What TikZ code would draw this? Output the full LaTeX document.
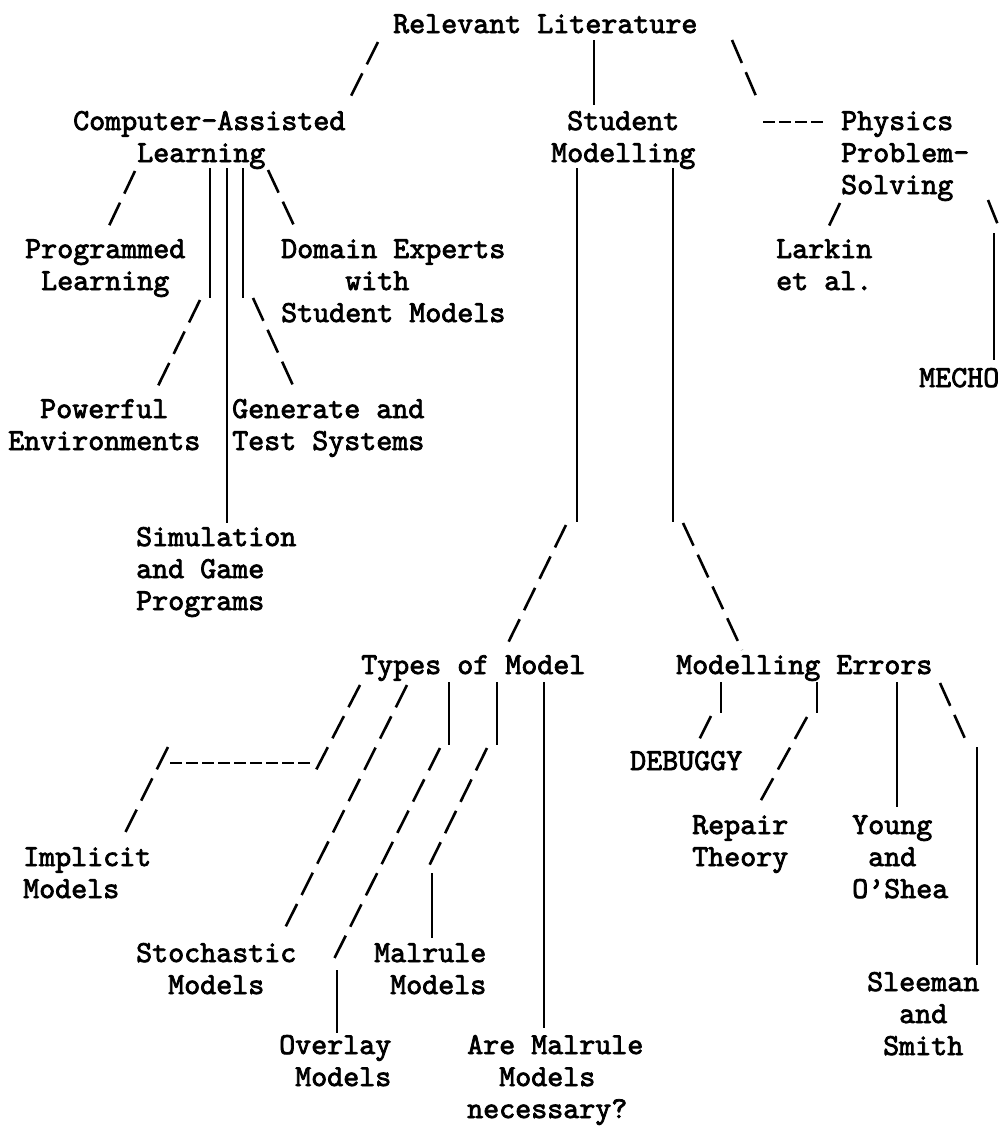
\documentclass[tikz,border=0pt]{standalone}
\usepackage{fontspec}
\newfontfamily\typewriter{lmmono10-regular.otf}[FakeBold=2.5]
\newcommand\ind[1]{\hspace*{#1\fontcharwd\font`x}}
\tikzset{lbl/.style={anchor=base west,align=left,inner sep=0pt,
           font=\typewriter\fontsize{30.5}{32}\selectfont},
         bar/.style={line width=2.6pt},
         slash/.style={line width=2.6pt,dash pattern=on 25pt off 10pt},
         hyph/.style={line width=2.8pt,dash pattern=on 12pt off 4pt}}

\begin{document}
\begin{tikzpicture}[x=1pt,y=-1pt]
  \useasboundingbox (0,0) rectangle (1007,1130);
  % topics (placed at the baseline of their last line)
  \node[lbl] (rl)    at (393,33)   {Relevant Literature};
  \node[lbl] (cal)   at (73,162)   {Computer-Assisted\\\ind{4}Learning};
  \node[lbl] (sm)    at (551,162)  {\ind{1}Student\\Modelling};
  \node[lbl] (pps)   at (841,194)  {Physics\\Problem-\\Solving};
  \node[lbl] (pl)    at (25,290)   {Programmed\\\ind{1}Learning};
  \node[lbl] (de)    at (281,322)  {Domain Experts\\\ind{4}with\\Student Models};
  \node[lbl] (lk)    at (776,290)  {Larkin\\et al.};
  \node[lbl] (mecho) at (919,387)  {MECHO};
  \node[lbl] (pe)    at (8,450)    {\ind{2}Powerful\\Environments};
  \node[lbl] (gt)    at (232,450)  {Generate and\\Test Systems};
  \node[lbl] (sg)    at (136,610)  {Simulation\\and Game\\Programs};
  \node[lbl] (tm)    at (361,674)  {Types of Model};
  \node[lbl] (me)    at (676,674)  {Modelling Errors};
  \node[lbl] (dbg)   at (630,770)  {DEBUGGY};
  \node[lbl] (rt)    at (692,866)  {Repair\\Theory};
  \node[lbl] (yo)    at (852,898)  {Young\\\ind{1}and\\O’Shea};
  \node[lbl] (im)    at (23,898)   {Implicit\\Models};
  \node[lbl] (st)    at (136,994)  {Stochastic\\\ind{2}Models};
  \node[lbl] (mr)    at (374,994)  {Malrule\\\ind{1}Models};
  \node[lbl] (ss)    at (867,1055) {Sleeman\\\ind{2}and\\\ind{1}Smith};
  \node[lbl] (ov)    at (279,1086) {Overlay\\\ind{1}Models};
  \node[lbl] (am)    at (467,1118) {Are Malrule\\\ind{2}Models\\necessary?};

  % branch points
  \coordinate (rl-a) at (378,42);  \coordinate (rl-b) at (350,98);
  \coordinate (rl-c) at (594,40);  \coordinate (rl-d) at (594,105);
  \coordinate (rl-e) at (732,40);  \coordinate (rl-f) at (759,103);
  \coordinate (pps-a) at (763,122); \coordinate (pps-b) at (823,122);
  \coordinate (cal-a) at (135,171); \coordinate (cal-b) at (108,228);
  \coordinate (cal-c) at (210,168); \coordinate (cal-d) at (210,298);
  \coordinate (cal-e) at (200,300); \coordinate (cal-f) at (157,388);
  \coordinate (cal-g) at (227,168); \coordinate (cal-h) at (227,523);
  \coordinate (cal-i) at (243,168); \coordinate (cal-j) at (243,298);
  \coordinate (cal-k) at (253,298); \coordinate (cal-l) at (296,392);
  \coordinate (cal-m) at (268,170); \coordinate (cal-n) at (297,232);
  \coordinate (sm-a) at (577,168);  \coordinate (sm-b) at (577,522);
  \coordinate (sm-c) at (566,525);  \coordinate (sm-d) at (507,645);
  \coordinate (sm-e) at (673,168);  \coordinate (sm-f) at (673,522);
  \coordinate (sm-g) at (683,523);  \coordinate (sm-h) at (742,650);
  \coordinate (pps-c) at (840,203); \coordinate (pps-d) at (828,228);
  \coordinate (pps-e) at (988,200); \coordinate (pps-f) at (1000,230);
  \coordinate (pps-g) at (994,233); \coordinate (pps-h) at (994,360);
  \coordinate (tm-a) at (360,685);  \coordinate (tm-b) at (315,772);
  \coordinate (tm-c) at (170,763);  \coordinate (tm-d) at (312,763);
  \coordinate (tm-e) at (168,747);  \coordinate (tm-f) at (123,837);
  \coordinate (tm-g) at (407,685);  \coordinate (tm-h) at (283,932);
  \coordinate (tm-i) at (449,682);  \coordinate (tm-j) at (449,745);
  \coordinate (tm-k) at (440,748);  \coordinate (tm-l) at (332,963);
  \coordinate (tm-m) at (337,970);  \coordinate (tm-n) at (337,1033);
  \coordinate (tm-o) at (497,682);  \coordinate (tm-p) at (497,745);
  \coordinate (tm-q) at (487,748);  \coordinate (tm-r) at (428,868);
  \coordinate (tm-s) at (432,873);  \coordinate (tm-t) at (432,938);
  \coordinate (tm-u) at (544,682);  \coordinate (tm-v) at (544,1028);
  \coordinate (me-a) at (721,682);  \coordinate (me-b) at (721,713);
  \coordinate (me-c) at (711,716);  \coordinate (me-d) at (699,740);
  \coordinate (me-e) at (817,682);  \coordinate (me-f) at (817,713);
  \coordinate (me-g) at (807,717);  \coordinate (me-h) at (760,802);
  \coordinate (me-i) at (897,682);  \coordinate (me-j) at (897,807);
  \coordinate (me-k) at (940,683);  \coordinate (me-l) at (967,743);
  \coordinate (me-m) at (977,747);  \coordinate (me-n) at (977,965);

  % top level
  \draw[slash] (rl-a) -- (rl-b);
  \draw[bar]   (rl-c) -- (rl-d);
  \draw[slash] (rl-e) -- (rl-f);
  \draw[hyph]  (pps-a) -- (pps-b);
  % computer-assisted learning
  \draw[slash] (cal-a) -- (cal-b);
  \draw[bar]   (cal-c) -- (cal-d);
  \draw[slash] (cal-e) -- (cal-f);
  \draw[bar]   (cal-g) -- (cal-h);
  \draw[bar]   (cal-i) -- (cal-j);
  \draw[slash] (cal-k) -- (cal-l);
  \draw[slash] (cal-m) -- (cal-n);
  % student modelling
  \draw[bar]   (sm-a) -- (sm-b);
  \draw[slash] (sm-c) -- (sm-d);
  \draw[bar]   (sm-e) -- (sm-f);
  \draw[slash] (sm-g) -- (sm-h);
  % physics
  \draw[slash] (pps-c) -- (pps-d);
  \draw[slash] (pps-e) -- (pps-f);
  \draw[bar]   (pps-g) -- (pps-h);
  % types of model
  \draw[slash] (tm-a) -- (tm-b);
  \draw[hyph]  (tm-c) -- (tm-d);
  \draw[slash] (tm-e) -- (tm-f);
  \draw[slash] (tm-g) -- (tm-h);
  \draw[bar]   (tm-i) -- (tm-j);
  \draw[slash] (tm-k) -- (tm-l);
  \draw[bar]   (tm-m) -- (tm-n);
  \draw[bar]   (tm-o) -- (tm-p);
  \draw[slash] (tm-q) -- (tm-r);
  \draw[bar]   (tm-s) -- (tm-t);
  \draw[bar]   (tm-u) -- (tm-v);
  % modelling errors
  \draw[bar]   (me-a) -- (me-b);
  \draw[slash] (me-c) -- (me-d);
  \draw[bar]   (me-e) -- (me-f);
  \draw[slash] (me-g) -- (me-h);
  \draw[bar]   (me-i) -- (me-j);
  \draw[slash] (me-k) -- (me-l);
  \draw[bar]   (me-m) -- (me-n);
\end{tikzpicture}
\end{document}
